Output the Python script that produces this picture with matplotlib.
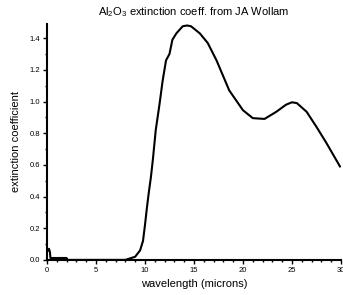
import matplotlib
matplotlib.use('Agg')
import matplotlib.pyplot as plt
from matplotlib.ticker import MultipleLocator

wavelength = [0.15, 0.2, 0.3, 0.35, 0.5, 1.0, 1.5, 2.0, 2.1, 5.0, 8.0, 8.5, 9.0, 9.5, 9.8,
              10.0, 10.2, 10.4, 10.6, 10.8, 11.1, 11.5, 11.8, 12.15, 12.5, 12.8, 13.2,
              13.85, 14.3, 14.7, 15.6, 16.4, 17.3, 18.6, 20.0, 21.0, 22.2, 23.4, 24.4,
              25.0, 25.5, 26.5, 27.5, 28.5, 29.9]
extinction = [0.06, 0.07, 0.05, 0.012, 0.012, 0.012, 0.012, 0.012, 0.0, 0.0, 0.0, 0.01, 0.02,
              0.06, 0.12, 0.22, 0.33, 0.43, 0.52, 0.63, 0.82, 0.99, 1.13, 1.26, 1.30, 1.39,
              1.43, 1.475, 1.48, 1.475, 1.43, 1.37, 1.26, 1.07, 0.945, 0.895, 0.89, 0.935,
              0.98, 0.995, 0.99, 0.935, 0.84, 0.74, 0.59]

plt.rcParams['font.family'] = ['Liberation Sans', 'DejaVu Sans']
plt.rcParams['mathtext.fontset'] = 'custom'
plt.rcParams['mathtext.rm'] = 'Liberation Sans'
plt.rcParams['mathtext.it'] = 'Liberation Sans'

fig = plt.figure(figsize=(3.43, 2.95), dpi=100)
ax = fig.add_axes([0.137, 0.119, 0.857, 0.80])

ax.plot(wavelength, extinction, color='black', linewidth=1.5)

ax.set_xlim(0, 30)
ax.set_ylim(0, 1.49)
ax.xaxis.set_major_locator(MultipleLocator(5))
ax.xaxis.set_minor_locator(MultipleLocator(1))
ax.yaxis.set_major_locator(MultipleLocator(0.2))
ax.yaxis.set_minor_locator(MultipleLocator(0.1))
ax.yaxis.set_major_formatter(lambda v, p: f'{v:.1f}')

for side in ['top', 'right']:
    ax.spines[side].set_visible(False)
for side in ['left', 'bottom']:
    ax.spines[side].set_linewidth(1.5)

ax.tick_params(which='major', length=3, width=1, labelsize=5.5, pad=2)
ax.tick_params(which='minor', length=1.5, width=1)

ax.set_xlabel('wavelength (microns)', fontsize=8, labelpad=4)
ax.set_ylabel('extinction coefficient', fontsize=8, labelpad=6)
ax.set_title(r'Al$_{2}$O$_{3}$ extinction coeff. from JA Wollam', fontsize=8, pad=6)

fig.savefig('out.png', dpi=100)
